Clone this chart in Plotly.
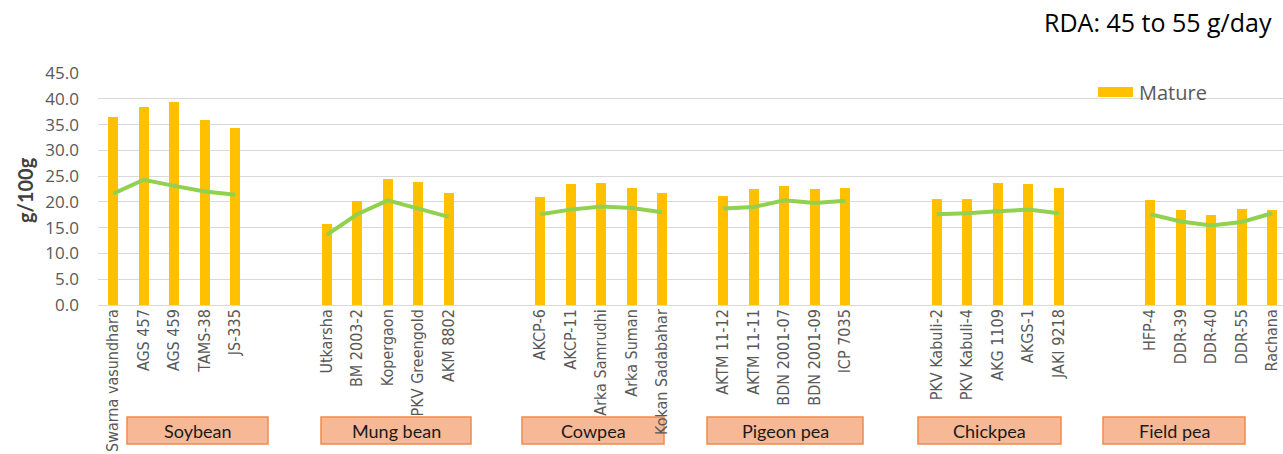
import plotly.graph_objects as go

# ---------------- data ----------------
groups = ["Soybean", "Mung bean", "Cowpea", "Pigeon pea", "Chickpea", "Field pea"]
soybean = ["Swarna vasundhara", "AGS 457", "AGS 459", "TAMS-38", "JS-335"]
mung_bean = ["Utkarsha", "BM 2003-2", "Kopergaon", "PKV Greengold", "AKM 8802"]
cowpea = ["AKCP-6", "AKCP-11", "Arka Samrudhi", "Arka Suman", "Kokan Sadabahar"]
pigeon_pea = ["AKTM 11-12", "AKTM 11-11", "BDN 2001-07", "BDN 2001-09", "ICP 7035"]
chickpea = ["PKV Kabuli-2", "PKV Kabuli-4", "AKG 1109", "AKGS-1", "JAKI 9218"]
field_pea = ["HFP-4", "DDR-39", "DDR-40", "DDR-55", "Rachana"]

mature_soybean = [36.4, 38.4, 39.3, 35.9, 34.4]
mature_mung = [15.8, 20.1, 24.4, 23.9, 21.7]
mature_cowpea = [21.0, 23.4, 23.7, 22.6, 21.8]
mature_pigeon = [21.2, 22.5, 23.0, 22.5, 22.7]
mature_chickpea = [20.6, 20.6, 23.7, 23.5, 22.6]
mature_field = [20.4, 18.5, 17.5, 18.7, 18.5]

line_soybean = [21.6, 24.3, 23.1, 22.0, 21.4]
line_mung = [13.6, 17.6, 20.3, 18.8, 17.1]
line_cowpea = [17.6, 18.5, 19.1, 18.8, 18.0]
line_pigeon = [18.7, 19.0, 20.3, 19.8, 20.2]
line_chickpea = [17.6, 17.8, 18.2, 18.5, 17.8]
line_field = [17.6, 16.2, 15.4, 16.1, 17.8]

y_ticks = [0, 5, 10, 15, 20, 25, 30, 35, 40, 45]

# ---------------- layout helpers ----------------
varieties = [soybean, mung_bean, cowpea, pigeon_pea, chickpea, field_pea]
mature = [mature_soybean, mature_mung, mature_cowpea, mature_pigeon, mature_chickpea, mature_field]
lines = [line_soybean, line_mung, line_cowpea, line_pigeon, line_chickpea, line_field]
gaps_before = [0, 2, 2, 1, 2, 2]  # empty category slots between groups

W, H = 1283, 454
L, R, T, B = 98, 0, 73, 149
PW, PH = W - L - R, H - T - B
slot = 30.5

xs_bar, ys_bar, labels = [], [], []
xs_line, ys_line = [], []
pos = 0
for names, mv, lv, gap in zip(varieties, mature, lines, gaps_before):
    pos += gap
    if xs_line:
        xs_line.append(None)
        ys_line.append(None)
    for n, m, l in zip(names, mv, lv):
        xs_bar.append(pos)
        ys_bar.append(m)
        labels.append(n)
        xs_line.append(pos)
        ys_line.append(l)
        pos += 1


def px_x(p):
    return (p - L) / PW


def px_y(p):
    return (H - B - p) / PH


fig = go.Figure()
fig.add_trace(go.Bar(x=xs_bar, y=ys_bar, name="Mature", marker=dict(color="#FFC000", line=dict(width=0)),
                     width=0.32, showlegend=False))
fig.add_trace(go.Scatter(x=xs_line, y=ys_line, mode="lines", name="line",
                         line=dict(color="#92D050", width=4), connectgaps=False, showlegend=False))

# group boxes (pixel extents)
box_px = [(127, 268), (321, 471), (522, 664), (707, 863), (918, 1061), (1103, 1245)]
for g, (x0, x1) in zip(groups, box_px):
    fig.add_shape(type="rect", xref="paper", yref="paper",
                  x0=px_x(x0), x1=px_x(x1), y0=px_y(444), y1=px_y(417),
                  fillcolor="#F6B895", line=dict(color="#EE8A4E", width=1.5), layer="below")
    fig.add_annotation(text=g, xref="paper", yref="paper", x=px_x((x0 + x1) / 2), y=px_y(431),
                       xanchor="center", yanchor="middle", showarrow=False,
                       font=dict(family="Lato, Open Sans, sans-serif", size=18, color="#1a1a1a"))

# legend (custom)
fig.add_shape(type="rect", xref="paper", yref="paper", x0=px_x(1098), x1=px_x(1133),
              y0=px_y(97), y1=px_y(87), fillcolor="#FFC000", line=dict(width=0))
fig.add_annotation(text="Mature", xref="paper", yref="paper", x=px_x(1137), y=px_y(92),
                   xanchor="left", yanchor="middle", showarrow=False,
                   font=dict(family="Open Sans, sans-serif", size=20, color="#595959"))

# title
fig.add_annotation(text="RDA: 45 to 55 g/day", xref="paper", yref="paper", x=px_x(1274), y=px_y(22),
                   xanchor="right", yanchor="middle", showarrow=False,
                   font=dict(family="Open Sans, sans-serif", size=25, color="#000000"))

# y title
fig.add_annotation(text="<b>g/100g</b>", xref="paper", yref="paper", x=px_x(25), y=px_y(190),
                   xanchor="center", yanchor="middle", showarrow=False, textangle=-90,
                   font=dict(family="Lato, Open Sans, sans-serif", size=20, color="#404040"))

fig.update_layout(
    width=W, height=H,
    margin=dict(l=L, r=R, t=T, b=B, autoexpand=False),
    paper_bgcolor="white", plot_bgcolor="white",
    bargap=0,
)
fig.update_xaxes(
    range=[-0.5, -0.5 + PW / slot], tickmode="array", tickvals=xs_bar, ticktext=labels,
    tickangle=-90, showgrid=False, zeroline=False, showline=False, ticks="",
    tickfont=dict(family="Liberation Sans Narrow, DejaVu Sans Condensed, sans-serif", size=16, color="#595959"),
    automargin=False,
)
fig.update_yaxes(
    range=[0, 45], tickmode="array", tickvals=y_ticks, tickformat=".1f",
    showgrid=True, gridcolor="#D9D9D9", gridwidth=1, zeroline=True, zerolinecolor="#D9D9D9",
    zerolinewidth=1, showline=False, ticks="", ticklabelstandoff=18,
    tickfont=dict(family="Open Sans, sans-serif", size=17, color="#595959"),
    automargin=False,
)

fig.write_html("out.html")
